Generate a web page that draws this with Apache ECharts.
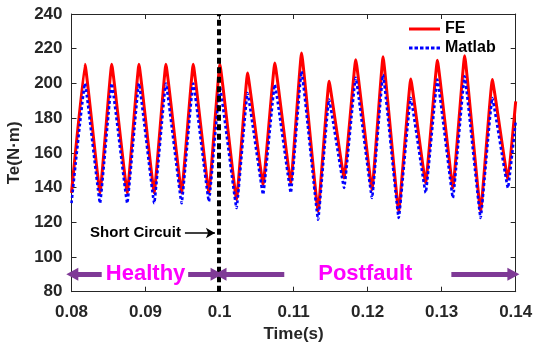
<!DOCTYPE html>
<html>
<head>
<meta charset="utf-8">
<script src="https://cdn.jsdelivr.net/npm/echarts@6/dist/echarts.min.js"></script>
<style>
html,body{margin:0;padding:0;background:#fff;}
#c{width:541px;height:343px;}
</style>
</head>
<body>
<div id="c"></div>
<script>
// time of each peak/trough (s)
const time = [0.0800,0.08182,0.08385,0.08543,0.08753,0.08911,0.09117,0.09275,0.09487,0.09644,
  0.09856,0.10004,0.10229,0.10378,0.10588,0.10746,0.10962,0.11107,0.11331,0.11479,
  0.11682,0.11839,0.12059,0.12208,0.12420,0.12582,0.12784,0.12942,0.13152,0.13310,
  0.13526,0.13684,0.13895,0.1400];
const feValues = [137,211,137,211,137,211,137,211,137,211,
  137,211,133,206,141.7,211.8,142.6,217.6,126.3,201.2,
  145.5,213.7,138.8,215.3,126.3,202.6,142.6,213.3,139.8,216,
  126.3,202.2,144.6,189.7];
const matlabValues = [131,200,131,200,131,200,131,200,131,200,
  132,198,128.2,194.5,136,199.3,137,207,121.5,190.7,
  139.8,203.2,134,205,122.5,191.6,137,202.2,134,204.1,
  122.5,191.6,139.8,178];
const xTicks = {min:0.08, max:0.14, interval:0.01};
const yTicks = {min:80, max:240, interval:20};
const faultTime = 0.0999;
// annotation arrows: [fromT, toT] at value arrowY (tip at "to")
const arrowY = 90;
const purpleArrows = [[0.08408,0.08011],[0.09576,0.09959],[0.10874,0.10013],[0.13131,0.13969]];
const shortCircuitArrow = [[0.09532,113.8],[0.09937,113.8]];
const labels = [
  {text:'Short Circuit', t:0.08864, v:113.8, kind:'sc'},
  {text:'Healthy', t:0.09001, v:arrowY, kind:'ph'},
  {text:'Postfault', t:0.11968, v:arrowY, kind:'ph'}
];

const fe = time.map((t,i)=>[t,feValues[i]]);
const ml = time.map((t,i)=>[t,matlabValues[i]]);
const axisColor = '#262626';
const FONT = 'Liberation Sans, Arial, sans-serif';

const chart = echarts.init(document.getElementById('c'), null, {renderer:'canvas'});

const mlData = [];
purpleArrows.forEach(a=>{
  mlData.push([{coord:[a[0],arrowY], symbol:'none'},{coord:[a[1],arrowY], symbol:'triangle', symbolSize:[13,12], symbolRotate: a[1] > a[0] ? -90 : 90,
    lineStyle:{color:'#7f3a96', width:5, type:'solid'}, itemStyle:{color:'#7f3a96'}}]);
});
mlData.push([{coord:shortCircuitArrow[0], symbol:'none'},{coord:shortCircuitArrow[1], symbol:'arrow', symbolSize:[8,9],
  lineStyle:{color:'#000', width:1.5, type:'solid'}, itemStyle:{color:'#000'}}]);

const mpData = labels.map(l=>({
  coord:[l.t,l.v], symbol:'circle', symbolSize:1, itemStyle:{color:'rgba(0,0,0,0)'},
  label:{show:true, position:'inside', formatter:l.text, fontFamily:FONT, fontWeight:'bold',
    fontSize: l.kind==='sc'?15:22, color: l.kind==='sc'?'#000':'#ff00ff'}
}));

const solidIcon = 'path://M0,0H31V3H0Z';
const dashIcon = 'path://M0,0h3.5v3h-3.5z M5.5,0h3.5v3h-3.5z M11,0h3.5v3h-3.5z M16.5,0h3.5v3h-3.5z M22,0h3.5v3h-3.5z M27.5,0h3.5v3h-3.5z';

const option = {
  animation:false,
  backgroundColor:'#fff',
  grid:{left:71.5, right:25.3, top:14, bottom:51.3, containLabel:false, outerBoundsMode:'none'},
  legend:{
    data:[{name:'FE', icon:solidIcon},{name:'Matlab', icon:dashIcon}],
    orient:'vertical', left:409, top:21, itemWidth:31, itemHeight:3, itemGap:3,
    textStyle:{fontFamily:FONT, fontWeight:'bold', fontSize:16, color:'#000'}, padding:0
  },
  xAxis:[{
    type:'value', min:xTicks.min, max:xTicks.max, interval:xTicks.interval,
    name:'Time(s)', nameLocation:'middle', nameGap:34,
    nameTextStyle:{fontFamily:FONT, fontWeight:'bold', fontSize:17, color:axisColor},
    axisLine:{show:true, onZero:false, lineStyle:{color:axisColor, width:1}},
    axisTick:{show:true, inside:true, length:5, lineStyle:{color:axisColor}},
    axisLabel:{fontFamily:FONT, fontWeight:'bold', fontSize:17, color:axisColor, margin:12,
      formatter:v=>String(+v.toFixed(2))},
    splitLine:{show:false}
  },{
    type:'value', position:'top', min:xTicks.min, max:xTicks.max, interval:xTicks.interval,
    axisLine:{show:true, onZero:false, lineStyle:{color:axisColor, width:1}},
    axisTick:{show:true, inside:true, length:5, lineStyle:{color:axisColor}},
    axisLabel:{show:false}, splitLine:{show:false}
  }],
  yAxis:[{
    type:'value', min:yTicks.min, max:yTicks.max, interval:yTicks.interval,
    name:'Te(N·m)', nameLocation:'middle', nameGap:48, nameRotate:90,
    nameTextStyle:{fontFamily:FONT, fontWeight:'bold', fontSize:17, color:axisColor},
    axisLine:{show:true, onZero:false, lineStyle:{color:axisColor, width:1}},
    axisTick:{show:true, inside:true, length:5, lineStyle:{color:axisColor}},
    axisLabel:{fontFamily:FONT, fontWeight:'bold', fontSize:17, color:axisColor, margin:9},
    splitLine:{show:false}
  },{
    type:'value', position:'right', min:yTicks.min, max:yTicks.max, interval:yTicks.interval,
    axisLine:{show:true, onZero:false, lineStyle:{color:axisColor, width:1}},
    axisTick:{show:true, inside:true, length:5, lineStyle:{color:axisColor}},
    axisLabel:{show:false}, splitLine:{show:false}
  }],
  series:[
    {name:'FE', type:'line', data:fe, showSymbol:false, symbol:'none', smooth:0.08,
      lineStyle:{color:'#ff0000', width:3}, itemStyle:{color:'#ff0000'}, z:2},
    {name:'Matlab', type:'line', data:ml, showSymbol:false, symbol:'none', smooth:0.08,
      lineStyle:{color:'#0000ff', width:2.6, type:[3,2.5]}, itemStyle:{color:'#0000ff'}, z:3},
    {name:'annot', type:'line', data:[], z:5, silent:true,
      markLine:{silent:true, animation:false, symbol:'none', label:{show:false},
        data:[[{coord:[faultTime,yTicks.min], symbol:'none'},{coord:[faultTime,yTicks.max], symbol:'none',
          lineStyle:{color:'#000', width:4, type:[6,3.5]}}]].concat(mlData)},
      markPoint:{silent:true, animation:false, data:mpData}
    }
  ]
};
chart.setOption(option);
</script>
</body>
</html>
